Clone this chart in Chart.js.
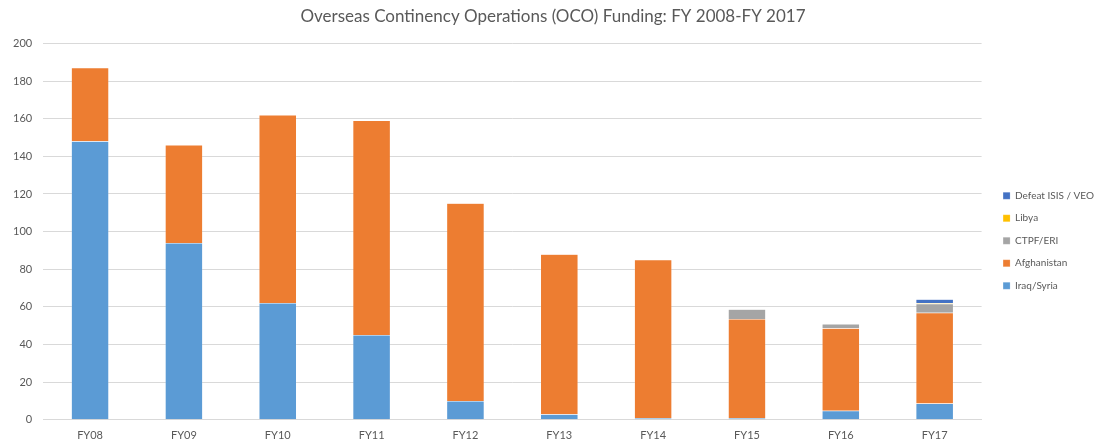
<!DOCTYPE html>
<html>
<head>
<meta charset="utf-8">
<script src="https://cdn.jsdelivr.net/npm/chart.js@4"></script>
<style>
  html, body { margin: 0; padding: 0; background: #fff; }
  #wrap { width: 1098px; height: 442px; }
</style>
</head>
<body>
<div id="wrap"><canvas id="oco"></canvas></div>
<script>
const years = ["FY08", "FY09", "FY10", "FY11", "FY12", "FY13", "FY14", "FY15", "FY16", "FY17"];
const iraqSyria   = [148, 94, 62, 45, 10, 3, 1, 0.9, 4.8, 8.7];
const afghanistan = [39, 52, 100, 114, 105, 85, 84, 52.6, 43.9, 48.2];
const ctpfEri     = [0, 0, 0, 0, 0, 0, 0, 5.2, 2.2, 4.8];
const libya       = [0, 0, 0, 0, 0, 0, 0, 0, 0, 0.3];
const defeatIsis  = [0, 0, 0, 0, 0, 0, 0, 0, 0, 2.0];

const FONT = "Lato, 'Open Sans', sans-serif";
const TEXT = "#595959";

function ds(label, data, color) {
  return {
    label,
    data,
    backgroundColor: color,
    borderColor: "rgba(255,255,255,0.35)",
    borderWidth: 0.5,
    categoryPercentage: 1,
    barPercentage: 0.4
  };
}

new Chart(document.getElementById("oco"), {
  type: "bar",
  data: {
    labels: years,
    datasets: [
      ds("Iraq/Syria", iraqSyria, "#5B9BD5"),
      ds("Afghanistan", afghanistan, "#ED7D31"),
      ds("CTPF/ERI", ctpfEri, "#A5A5A5"),
      ds("Libya", libya, "#FFC000"),
      ds("Defeat ISIS / VEO", defeatIsis, "#4472C4")
    ]
  },
  options: {
    responsive: true,
    maintainAspectRatio: false,
    animation: false,
    layout: { padding: { left: 2, right: -6, top: 5, bottom: -9 } },
    plugins: {
      title: {
        display: true,
        text: "Overseas Continency Operations (OCO) Funding: FY 2008-FY 2017",
        color: TEXT,
        font: { family: FONT, size: 17, weight: "normal" },
        padding: { top: 1, bottom: 17 }
      },
      legend: {
        position: "right",
        reverse: true,
        title: { display: true, text: "", font: { size: 10 }, padding: { top: 11, bottom: 2.5 } },
        labels: {
          color: TEXT,
          font: { family: FONT, size: 10 },
          boxWidth: 7,
          boxHeight: 7,
          padding: 12.5
        }
      },
      tooltip: { enabled: false }
    },
    scales: {
      x: {
        stacked: true,
        grid: { display: false, drawTicks: false },
        border: { display: true, color: "#d9d9d9" },
        ticks: { color: TEXT, font: { family: FONT, size: 11 }, padding: 9 }
      },
      y: {
        stacked: true,
        min: 0,
        max: 200,
        border: { display: false },
        grid: { color: "#d9d9d9", drawTicks: false },
        ticks: { stepSize: 20, color: TEXT, font: { family: FONT, size: 11 }, padding: 11 }
      },
      // empty spacer between the plot and the legend
      gap: {
        position: "right",
        display: true,
        grid: { display: false, drawTicks: false },
        border: { display: false },
        ticks: { display: false },
        afterFit: (s) => { s.width = 9; }
      }
    }
  }
});
</script>
</body>
</html>
